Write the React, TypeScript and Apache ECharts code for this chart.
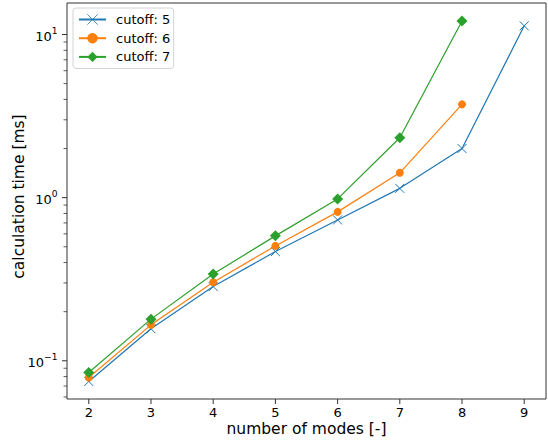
import React, { useEffect, useRef } from 'react';
import * as echarts from 'echarts';

const MODES = [2, 3, 4, 5, 6, 7, 8, 9];
const CUTOFF_5 = [0.0747, 0.157, 0.285, 0.467, 0.73, 1.14, 2.0, 11.3];
const CUTOFF_6 = [0.079, 0.166, 0.303, 0.506, 0.818, 1.42, 3.73];
const CUTOFF_7 = [0.0848, 0.18, 0.34, 0.583, 0.982, 2.33, 12.1];
const SERIES_NAMES = ['cutoff: 5', 'cutoff: 6', 'cutoff: 7'];

const X_TICKS = [2, 3, 4, 5, 6, 7, 8, 9];
const Y_MAJOR = [0.1, 1, 10];
const Y_MINOR = [0.06, 0.07, 0.08, 0.09, 0.2, 0.3, 0.4, 0.5, 0.6, 0.7, 0.8, 0.9, 2, 3, 4, 5, 6, 7, 8, 9];
const X_RANGE = [1.65, 9.35];
const Y_RANGE = [0.0583, 15.6];

const X_LABEL = 'number of modes [-]';
const Y_LABEL = 'calculation time [ms]';

const BLUE = '#1f77b4';
const ORANGE = '#ff7f0e';
const GREEN = '#2ca02c';
const AXIS = '#333333';
const FONT = 'DejaVu Sans';
const TICK_SIZE = 13;
const EXP_SIZE = 9.1;
const LABEL_SIZE = 15.5;

let measureCtx: CanvasRenderingContext2D | null = null;
function textWidth(t: string, size: number): number {
  if (!measureCtx) measureCtx = document.createElement('canvas').getContext('2d');
  if (!measureCtx) return t.length * size * 0.6;
  measureCtx.font = `${size}px "${FONT}"`;
  return measureCtx.measureText(t).width;
}

function expText(v: number): string {
  const e = Math.round(Math.log10(v));
  return String(e).replace('-', '\u2212');
}

export default function App() {
  const ref = useRef<HTMLDivElement>(null);

  useEffect(() => {
    if (!ref.current) return;
    const chart = echarts.init(ref.current, undefined, { renderer: 'svg' });

    const xTickSeries = {
      type: 'custom',
      silent: true,
      clip: false,
      z: 5,
      data: X_TICKS.map((v) => [v, Y_MAJOR[0]]),
      renderItem: (params: any, api: any) => {
        const cs = params.coordSys;
        const x = api.coord([api.value(0), api.value(1)])[0];
        const yb = cs.y + cs.height;
        return {
          type: 'group',
          children: [
            { type: 'line', shape: { x1: x, y1: yb, x2: x, y2: yb + 5 }, style: { stroke: AXIS, lineWidth: 1 } },
            {
              type: 'text',
              x: x,
              y: yb + 13,
              style: {
                text: String(api.value(0)),
                fontSize: TICK_SIZE,
                fontFamily: FONT,
                fill: '#000',
                align: 'center',
                verticalAlign: 'middle',
              },
            },
          ],
        };
      },
    };

    const yMajorSeries = {
      type: 'custom',
      silent: true,
      clip: false,
      z: 5,
      data: Y_MAJOR.map((v) => [X_TICKS[0], v]),
      renderItem: (params: any, api: any) => {
        const cs = params.coordSys;
        const v = api.value(1);
        const y = api.coord([api.value(0), v])[1];
        const x0 = cs.x;
        const exp = expText(v);
        const expW = textWidth(exp, EXP_SIZE);
        const right = x0 - 9.5;
        return {
          type: 'group',
          children: [
            { type: 'line', shape: { x1: x0 - 5, y1: y, x2: x0, y2: y }, style: { stroke: AXIS, lineWidth: 1 } },
            {
              type: 'text',
              x: right,
              y: y - 3.5,
              style: { text: exp, fontSize: EXP_SIZE, fontFamily: FONT, fill: '#000', align: 'right', verticalAlign: 'middle' },
            },
            {
              type: 'text',
              x: right - expW,
              y: y + 1.5,
              style: { text: '10', fontSize: TICK_SIZE, fontFamily: FONT, fill: '#000', align: 'right', verticalAlign: 'middle' },
            },
          ],
        };
      },
    };

    const yMinorSeries = {
      type: 'custom',
      silent: true,
      clip: false,
      z: 5,
      data: Y_MINOR.map((v) => [X_TICKS[0], v]),
      renderItem: (params: any, api: any) => {
        const cs = params.coordSys;
        const y = api.coord([api.value(0), api.value(1)])[1];
        const x0 = cs.x;
        return { type: 'line', shape: { x1: x0 - 3.5, y1: y, x2: x0, y2: y }, style: { stroke: AXIS, lineWidth: 0.8 } };
      },
    };

    const option: any = {
      animation: false,
      backgroundColor: '#ffffff',
      grid: {
        left: 67,
        right: 2,
        top: 3,
        bottom: 44,
        show: true,
        borderColor: AXIS,
        borderWidth: 1,
        backgroundColor: 'transparent',
      },
      xAxis: {
        type: 'value',
        min: X_RANGE[0],
        max: X_RANGE[1],
        axisLine: { show: false },
        axisTick: { show: false },
        axisLabel: { show: false },
        splitLine: { show: false },
      },
      yAxis: {
        type: 'log',
        logBase: 10,
        min: Y_RANGE[0],
        max: Y_RANGE[1],
        axisLine: { show: false },
        axisTick: { show: false },
        axisLabel: { show: false },
        splitLine: { show: false },
        minorTick: { show: false },
        minorSplitLine: { show: false },
      },
      legend: {
        data: SERIES_NAMES,
        orient: 'vertical',
        left: 73,
        top: 8,
        padding: [5, 3.5, 5, 5],
        itemGap: 5.7,
        itemWidth: 27,
        itemHeight: 13,
        borderColor: '#d3d3d3',
        borderWidth: 1,
        borderRadius: 3,
        backgroundColor: '#ffffff',
        itemStyle: { borderWidth: 0.8 },
        textStyle: { fontSize: TICK_SIZE, fontFamily: FONT, color: '#000', padding: [0, 0, 0, 5] },
      },
      graphic: [
        {
          type: 'text',
          x: 306.5,
          y: 429,
          style: { text: X_LABEL, fontSize: LABEL_SIZE, fontFamily: FONT, fill: '#000', align: 'center', verticalAlign: 'middle' },
        },
        {
          type: 'text',
          x: 18.7,
          y: 196.5,
          rotation: Math.PI / 2,
          style: { text: Y_LABEL, fontSize: LABEL_SIZE, fontFamily: FONT, fill: '#000', align: 'center', verticalAlign: 'middle' },
        },
      ],
      series: [
        {
          name: SERIES_NAMES[0],
          type: 'line',
          data: MODES.map((m, i) => [m, CUTOFF_5[i]]),
          symbol: 'path://M0,0L10,10M10,0L0,10',
          symbolSize: 9,
          symbolKeepAspect: true,
          showAllSymbol: true,
          lineStyle: { width: 1.2, color: BLUE },
          itemStyle: { color: BLUE, borderColor: BLUE, borderWidth: 1 },
          z: 2,
        },
        {
          name: SERIES_NAMES[1],
          type: 'line',
          data: CUTOFF_6.map((v, i) => [MODES[i], v]),
          symbol: 'circle',
          symbolSize: 8,
          showAllSymbol: true,
          lineStyle: { width: 1.2, color: ORANGE },
          itemStyle: { color: ORANGE, borderWidth: 0 },
          z: 3,
        },
        {
          name: SERIES_NAMES[2],
          type: 'line',
          data: CUTOFF_7.map((v, i) => [MODES[i], v]),
          symbol: 'diamond',
          symbolSize: 11,
          showAllSymbol: true,
          lineStyle: { width: 1.2, color: GREEN },
          itemStyle: { color: GREEN, borderWidth: 0 },
          z: 4,
        },
        xTickSeries,
        yMajorSeries,
        yMinorSeries,
      ],
    };

    chart.setOption(option);
    return () => chart.dispose();
  }, []);

  return (
    <div
      ref={ref}
      style={{ position: 'absolute', left: 0, top: 0, width: 548, height: 443 }}
    />
  );
}
